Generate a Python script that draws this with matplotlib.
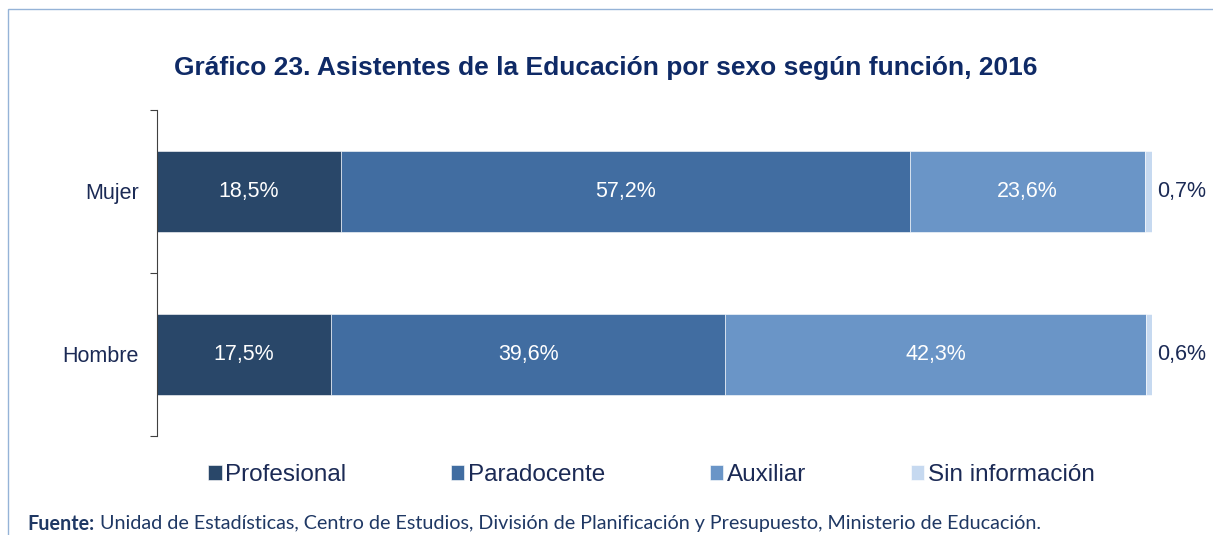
import numpy as np
import matplotlib.pyplot as plt
from matplotlib.patches import Rectangle

# Datos (porcentajes)
categorias = ["Hombre", "Mujer"]
series = ["Profesional", "Paradocente", "Auxiliar", "Sin información"]
profesional = [17.5, 18.5]
paradocente = [39.6, 57.2]
auxiliar = [42.3, 23.6]
sin_info = [0.6, 0.7]

colores = ["#294769", "#416da1", "#6a95c7", "#c6d9f0"]
navy = "#1b2a55"

plt.rcParams['font.family'] = ['Liberation Sans', 'DejaVu Sans']

fig = plt.figure(figsize=(12.13, 5.35), dpi=100)
ax = fig.add_axes([157 / 1213, 1 - 436 / 535, 995 / 1213, 326 / 535])

y = np.arange(len(categorias))
left = np.zeros(len(categorias))
valores = [profesional, paradocente, auxiliar, sin_info]
for vals, nombre, color in zip(valores, series, colores):
    bars = ax.barh(y, vals, left=left, height=0.5, color=color,
                   edgecolor="white", linewidth=0.4, label=nombre)
    for yi, v, l in zip(y, vals, left):
        txt = f"{v:.1f}%".replace(".", ",")
        if v > 5:
            ax.text(l + v / 2, yi, txt, ha="center", va="center",
                    color="white", fontsize=15.5)
        else:
            ax.text(l + v + 0.5, yi, txt, ha="left", va="center",
                    color=navy, fontsize=15.5)
    left = left + np.array(vals)

ax.set_xlim(0, 100)
ax.set_ylim(-0.5, 1.5)
ax.set_xticks([])
for s in ["top", "right", "bottom"]:
    ax.spines[s].set_visible(False)
ax.spines["left"].set_color("#404040")
ax.set_yticks([-0.5, 0.5, 1.5])
ax.set_yticklabels([])
ax.tick_params(axis="y", which="major", length=5, color="#404040")
ax.set_yticks(y, minor=True)
ax.set_yticklabels(categorias, minor=True, fontsize=15.5, color=navy)
ax.tick_params(axis="y", which="minor", length=0, pad=13)

fig.text(0.4995, 1 - 68 / 535, "Gráfico 23. Asistentes de la Educación por sexo según función, 2016",
         ha="center", va="center", fontsize=19, fontweight="bold", color="#0f2a66")

handles, labels = ax.get_legend_handles_labels()
fig.legend(handles, labels, loc="center", bbox_to_anchor=(0.537, 1 - 475 / 535),
           ncol=4, frameon=False, fontsize=17.5, handlelength=0.55, handleheight=0.55,
           handletextpad=0.15, columnspacing=4.3, labelcolor=navy)

# borde del cuadro
fig.patches.append(Rectangle((8 / 1213, -0.1), 1.2, 1 - 9 / 535 + 0.1,
                             transform=fig.transFigure, fill=False,
                             edgecolor="#95b3d7", linewidth=1))

fig.text(27 / 1213, 1 - 524 / 535, "Fuente:", fontsize=14.2, fontweight="bold",
         color="#1f3864", family=["Lato", "DejaVu Sans"], va="center")
fig.text(100 / 1213, 1 - 524 / 535,
         "Unidad de Estadísticas, Centro de Estudios, División de Planificación y Presupuesto, Ministerio de Educación.",
         fontsize=14.2, color="#1f3864", family=["Lato", "DejaVu Sans"], va="center")

fig.savefig("out.png", dpi=100)
